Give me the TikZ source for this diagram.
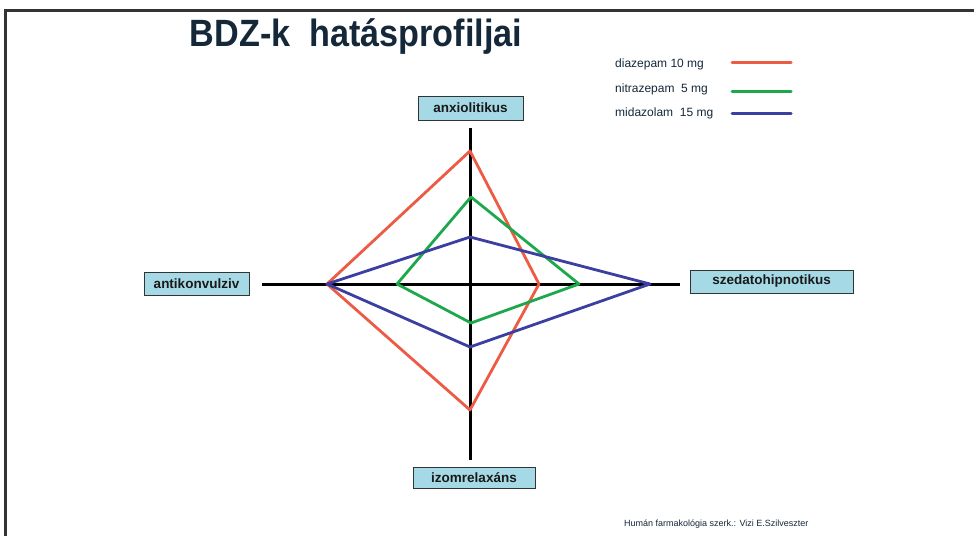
\documentclass[tikz,border=0pt]{standalone}
\usepackage{fontspec}
\setmainfont{Liberation Sans}
\definecolor{cred}{HTML}{EE5B45}
\definecolor{cgreen}{HTML}{1DA84C}
\definecolor{cblue}{HTML}{3B3FA0}
\definecolor{boxfill}{HTML}{A6D9E6}
\definecolor{titlecol}{HTML}{15283A}
\definecolor{framecol}{HTML}{333333}
\begin{document}
\begin{tikzpicture}[x=1pt,y=-1pt,
  axisbox/.style={draw=black!80, line width=0.9pt, fill=boxfill, inner sep=0pt, font=\bfseries\fontsize{13.5}{14}\selectfont, text=black!90},
  axisline/.style={line width=3pt, black},
  poly/.style={line width=2.8pt, line join=round},
  legtext/.style={anchor=west, font=\fontsize{12}{13}\selectfont, text=titlecol, inner sep=0pt},
  legline/.style={line width=3pt, line cap=round}]
\useasboundingbox (0,0) rectangle (974,536);
\fill[white] (0,0) rectangle (974,536);
% frame
\draw[framecol, line width=2.6pt] (5.5,536) -- (5.5,10.5) -- (974,10.5);
% title
\node[font=\bfseries\fontsize{38}{40}\selectfont, text=titlecol, xscale=0.9, inner sep=0pt] (title) at (356,37) {BDZ-k\ \ hatásprofiljai};
% axes
\coordinate (ctop) at (470,128);
\coordinate (cbot) at (470,460);
\coordinate (cleft) at (262,284);
\coordinate (cright) at (680,284);
\draw[axisline] (ctop) -- (cbot);
\draw[axisline] (cleft) -- (cright);
% boxes
\node[axisbox, minimum width=105pt, minimum height=24pt] (anx) at (470.5,108) {anxiolitikus};
\node[axisbox, minimum width=105pt, minimum height=23pt] (akv) at (196.5,283.5) {antikonvulziv};
\node[axisbox, minimum width=163pt, minimum height=23pt] (szh) at (771.5,281.5) {szedatohipnotikus};
\node[axisbox, minimum width=122pt, minimum height=21pt] (izr) at (474,477.5) {izomrelaxáns};
% data points
\coordinate (rT) at (470,151); \coordinate (rR) at (539,284); \coordinate (rB) at (470,410); \coordinate (rL) at (327,284);
\coordinate (gT) at (471,197); \coordinate (gR) at (579,284); \coordinate (gB) at (471,323); \coordinate (gL) at (397,284);
\coordinate (bT) at (470,237); \coordinate (bR) at (650,284); \coordinate (bB) at (470,347); \coordinate (bL) at (327,284);
\draw[poly, cred] (rT) -- (rR) -- (rB) -- (rL) -- cycle;
\draw[poly, cgreen] (gT) -- (gR) -- (gB) -- (gL) -- cycle;
\draw[poly, cblue] (bT) -- (bR) -- (bB) -- (bL) -- cycle;
% legend
\node[legtext] (l1) at (615,64) {diazepam 10 mg};
\node[legtext] (l2) at (615,89) {nitrazepam\ \ 5 mg};
\node[legtext] (l3) at (615,113) {midazolam\ \ 15 mg};
\coordinate (l1a) at (732,62); \coordinate (l1b) at (791,62);
\coordinate (l2a) at (732,91); \coordinate (l2b) at (791,91);
\coordinate (l3a) at (732,113); \coordinate (l3b) at (791,113);
\draw[legline, cred] (l1a) -- (l1b);
\draw[legline, cgreen] (l2a) -- (l2b);
\draw[legline, cblue] (l3a) -- (l3b);
% footer
\node[anchor=west, inner sep=0pt, font=\fontsize{9}{10}\selectfont, text=titlecol] (foot) at (624,524) {Humán farmakológia szerk.: Vizi E.Szilveszter};
\end{tikzpicture}
\end{document}
